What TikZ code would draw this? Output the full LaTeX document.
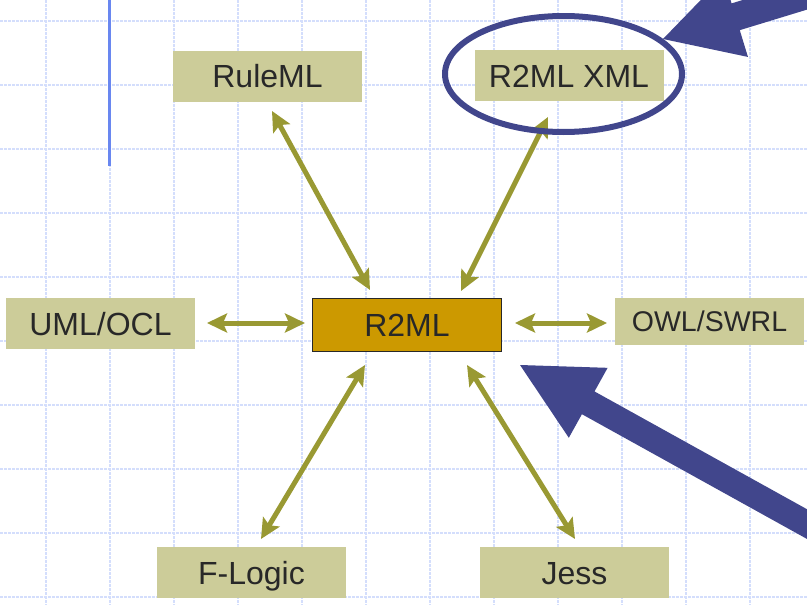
\documentclass[tikz,border=0pt]{standalone}
\usepackage{fontspec}
\setmainfont{Liberation Sans}
\usetikzlibrary{arrows.meta}
\definecolor{boxfill}{RGB}{204,204,153}
\definecolor{corefill}{RGB}{204,153,0}
\definecolor{olive}{RGB}{153,153,51}
\definecolor{navy}{RGB}{65,70,140}
\definecolor{gridc}{RGB}{212,222,252}
\definecolor{barc}{RGB}{105,135,240}
\definecolor{txt}{RGB}{40,40,40}
\begin{document}
\begin{tikzpicture}[x=1pt,y=-1pt,
  gridline/.style={draw=gridc, line width=2pt, dash pattern=on 2.5pt off 1.5pt},
  box/.style={fill=boxfill, text=txt, minimum width=189pt, minimum height=51pt,
    inner sep=0pt, text height=23pt, text depth=0pt,
    font=\fontsize{32}{38}\selectfont},
  corebox/.style={box, fill=corefill, draw=txt, line width=1.2pt,
    minimum width=189pt, minimum height=53pt},
  link/.style={draw=olive, line width=5pt,
    {Stealth[length=20pt,width=19pt,inset=4pt]}-{Stealth[length=20pt,width=19pt,inset=4pt]}},
  blockarrow/.style={fill=navy}
]
\useasboundingbox (0,0) rectangle (807,605);

% background grid
\foreach \i in {0,...,12}
  \draw[gridline] ({45.5+64.05*\i},0) -- ({45.5+64.05*\i},605);
\foreach \j in {0,...,9}
  \draw[gridline] (0,{21+64*\j}) -- (807,{21+64*\j});

% vertical accent bar
\draw[barc, line width=2.8pt] (109.7,0) -- (109.7,166);

% boxes
\node[box] (rule) at (267.5,76) {RuleML};
\node[box] (xml)  at (569,75.5) {R2ML XML};
\node[box] (uml)  at (100.5,323.5) {UML/OCL};
\node[corebox] (core) at (407,325) {R2ML};
\node[box, minimum height=47pt, text height=20.5pt,
  font=\fontsize{28.5}{34}\selectfont] (owl) at (709.5,321.5) {OWL/SWRL};
\node[box] (flog) at (251.5,572.5) {F-Logic};
\node[box] (jess) at (574.5,572.5) {Jess};

% connector end points
\coordinate (rule-a) at (272,111);  \coordinate (rule-b) at (370,290);
\coordinate (xml-a)  at (548,117);  \coordinate (xml-b)  at (461,291);
\coordinate (uml-a)  at (207,323);  \coordinate (uml-b)  at (305,323);
\coordinate (owl-a)  at (607,323);  \coordinate (owl-b)  at (515,323);
\coordinate (flog-a) at (261,539);  \coordinate (flog-b) at (365,365);
\coordinate (jess-a) at (575,539);  \coordinate (jess-b) at (467,365);

% two-way connectors
\draw[link] (rule-a) -- (rule-b);
\draw[link] (xml-a) -- (xml-b);
\draw[link] (uml-a) -- (uml-b);
\draw[link] (owl-a) -- (owl-b);
\draw[link] (flog-a) -- (flog-b);
\draw[link] (jess-a) -- (jess-b);

% highlight ellipse
\draw[navy, line width=6pt] (563.5,74) ellipse [x radius=118.5, y radius=58];

% block arrows
\begin{scope}
  \clip (0,0) rectangle (807,605);
  \begin{scope}[shift={(520,365)}, rotate=-29]
    \fill[blockarrow] (0,0) -- (78,40) -- (78,13) -- (500,13) -- (500,-13)
      -- (78,-13) -- (78,-40) -- cycle;
  \end{scope}
  \begin{scope}[shift={(663,39)}, rotate=17]
    \fill[blockarrow] (0,0) -- (76,42) -- (76,14) -- (400,14) -- (400,-14)
      -- (76,-14) -- (76,-42) -- cycle;
  \end{scope}
\end{scope}
\end{tikzpicture}
\end{document}
